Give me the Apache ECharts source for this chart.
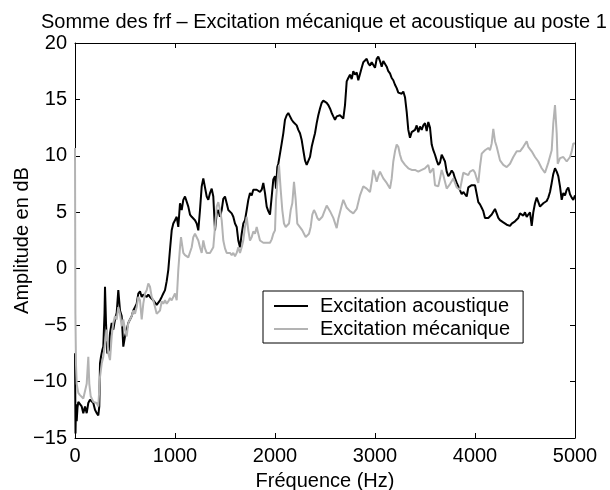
<!DOCTYPE html>
<html>
<head>
<meta charset="utf-8">
<script src="https://cdn.jsdelivr.net/npm/echarts@6/dist/echarts.min.js"></script>
<style>
  html, body { margin: 0; padding: 0; background: #fff; }
  #chart { width: 610px; height: 490px; }
</style>
</head>
<body>
<div id="chart"></div>
<script>
// Sum of FRFs, station 1: acoustic vs mechanical excitation (dB vs Hz)
const titleText = 'Somme des frf \u2013 Excitation mécanique et acoustique au poste 1';
const seriesNames = ['Excitation acoustique', 'Excitation mécanique'];
const xTicks = [0, 1000, 2000, 3000, 4000, 5000];
const yTicks = [-15, -10, -5, 0, 5, 10, 15, 20];

// Acoustic excitation
const acFreq = [0, 5, 10, 17, 25, 33, 50, 67, 83, 100, 117, 133, 150, 167, 183, 200, 217, 233, 243, 250, 260, 273, 283, 295, 300, 310, 323, 340, 350, 367, 383, 400, 417, 433, 450, 467, 483, 500, 517, 533, 550, 567, 583, 600, 617, 633, 650, 667, 683, 700, 717, 733, 750, 767, 783, 800, 817, 833, 850, 867, 883, 900, 917, 933, 950, 967, 983, 1000, 1017, 1033, 1050, 1067, 1083, 1100, 1117, 1133, 1150, 1167, 1183, 1200, 1217, 1233, 1250, 1267, 1283, 1300, 1317, 1333, 1350, 1367, 1383, 1400, 1417, 1433, 1450, 1467, 1483, 1500, 1517, 1533, 1550, 1567, 1583, 1600, 1617, 1633, 1650, 1667, 1683, 1700, 1717, 1733, 1750, 1767, 1783, 1800, 1817, 1833, 1850, 1867, 1883, 1900, 1917, 1933, 1950, 1967, 1983, 2000, 2010, 2023, 2033, 2050, 2067, 2083, 2100, 2117, 2133, 2150, 2167, 2183, 2200, 2217, 2233, 2250, 2267, 2283, 2300, 2317, 2333, 2350, 2367, 2383, 2400, 2417, 2433, 2450, 2467, 2483, 2500, 2517, 2533, 2550, 2567, 2583, 2600, 2617, 2633, 2650, 2667, 2683, 2690, 2700, 2717, 2733, 2750, 2767, 2783, 2800, 2817, 2833, 2850, 2867, 2883, 2900, 2917, 2933, 2950, 2967, 2983, 3000, 3017, 3033, 3050, 3067, 3083, 3100, 3117, 3133, 3150, 3167, 3183, 3200, 3217, 3233, 3250, 3267, 3283, 3300, 3317, 3333, 3350, 3367, 3383, 3400, 3417, 3433, 3450, 3467, 3483, 3500, 3517, 3533, 3550, 3567, 3583, 3600, 3617, 3633, 3650, 3667, 3683, 3700, 3717, 3733, 3750, 3767, 3783, 3800, 3817, 3833, 3850, 3867, 3883, 3900, 3917, 3933, 3950, 3967, 3983, 4000, 4017, 4033, 4050, 4067, 4083, 4100, 4117, 4133, 4150, 4167, 4183, 4200, 4217, 4233, 4250, 4267, 4283, 4300, 4317, 4333, 4350, 4367, 4383, 4400, 4417, 4433, 4450, 4467, 4483, 4500, 4517, 4533, 4550, 4567, 4583, 4600, 4617, 4633, 4650, 4667, 4683, 4700, 4717, 4733, 4750, 4767, 4783, 4800, 4817, 4833, 4850, 4867, 4883, 4900, 4917, 4933, 4950, 4967, 4983, 5000];
const acAmp = [-7.5, -14.6, -12.0, -13.5, -12.3, -11.8, -11.9, -12.2, -12.8, -12.2, -12.8, -11.9, -11.6, -11.6, -11.9, -12.5, -12.8, -13.0, -12.2, -8.4, -7.8, -7.2, -6.9, -4.0, -1.6, -4.8, -7.5, -7.2, -5.7, -4.8, -5.4, -4.5, -3.9, -1.9, -3.7, -4.2, -6.9, -6.0, -5.4, -4.8, -4.5, -4.2, -3.7, -3.4, -3.1, -2.2, -2.0, -2.5, -2.3, -2.2, -2.5, -2.3, -2.5, -2.6, -2.8, -2.9, -3.2, -3.1, -2.8, -2.5, -2.2, -1.9, -1.1, -0.1, 1.7, 3.4, 4.0, 4.3, 4.6, 3.7, 5.8, 5.2, 6.1, 6.4, 6.4, 5.5, 4.8, 4.6, 4.6, 4.3, 4.0, 3.4, 5.2, 7.3, 8.0, 8.0, 6.4, 6.1, 6.7, 7.1, 6.4, 3.4, 4.9, 5.2, 4.6, 5.2, 6.2, 6.4, 5.8, 5.2, 5.1, 4.9, 4.6, 4.0, 3.7, 2.5, 1.9, 3.1, 4.0, 4.3, 5.2, 6.1, 6.7, 6.5, 7.0, 7.1, 7.0, 7.1, 6.8, 7.0, 7.6, 6.7, 5.5, 5.1, 4.8, 4.9, 7.9, 8.2, 7.1, 9.0, 9.3, 10.2, 11.1, 12.0, 13.2, 13.6, 13.8, 13.5, 13.2, 13.0, 12.9, 12.7, 12.3, 12.0, 11.4, 10.5, 9.6, 9.2, 9.3, 9.9, 10.8, 11.4, 12.0, 12.9, 13.6, 14.2, 14.7, 14.9, 14.8, 14.7, 14.5, 14.2, 13.8, 13.5, 13.2, 13.5, 13.6, 13.6, 13.5, 13.3, 13.2, 14.5, 16.6, 16.9, 17.2, 16.8, 17.5, 17.2, 17.4, 16.7, 16.6, 17.8, 18.3, 18.4, 18.6, 18.2, 18.0, 18.3, 18.2, 17.8, 18.6, 18.8, 18.4, 17.9, 18.4, 18.5, 17.9, 17.5, 17.3, 16.9, 16.7, 16.3, 16.0, 15.6, 15.7, 15.5, 15.7, 15.2, 13.9, 12.3, 11.6, 12.1, 12.0, 12.3, 12.7, 12.1, 12.6, 12.3, 12.7, 12.9, 12.2, 13.0, 12.5, 11.0, 10.5, 10.1, 9.6, 9.2, 9.4, 10.1, 10.1, 9.5, 8.6, 8.2, 8.4, 8.7, 8.5, 8.0, 7.6, 7.3, 7.2, 6.6, 6.8, 6.6, 6.4, 7.2, 7.3, 7.4, 7.3, 7.4, 7.5, 5.9, 5.7, 5.4, 5.1, 4.5, 4.5, 4.5, 4.5, 4.8, 4.7, 5.3, 4.9, 4.5, 4.3, 4.3, 4.1, 4.0, 3.9, 4.0, 3.8, 4.0, 4.1, 4.2, 4.3, 4.5, 4.9, 4.8, 4.7, 5.0, 4.6, 4.8, 5.0, 3.8, 5.0, 5.8, 6.3, 6.2, 5.5, 5.6, 5.8, 5.9, 6.0, 6.3, 6.8, 7.6, 8.4, 8.9, 8.6, 8.2, 7.3, 6.1, 6.7, 6.5, 7.0, 7.2, 6.6, 6.3, 6.1, 6.5];

// Mechanical excitation
const meFreq = [0, 4, 10, 17, 33, 50, 67, 83, 100, 117, 133, 143, 157, 183, 200, 217, 233, 250, 267, 283, 300, 317, 333, 350, 367, 383, 400, 417, 433, 450, 467, 483, 500, 517, 533, 550, 567, 583, 600, 617, 633, 650, 667, 683, 700, 717, 733, 750, 767, 783, 800, 817, 833, 850, 867, 883, 900, 917, 933, 950, 967, 983, 1000, 1017, 1033, 1050, 1060, 1083, 1100, 1117, 1133, 1150, 1167, 1183, 1200, 1217, 1233, 1250, 1267, 1283, 1300, 1317, 1333, 1350, 1367, 1383, 1400, 1417, 1433, 1450, 1467, 1483, 1500, 1517, 1533, 1550, 1567, 1583, 1600, 1617, 1633, 1650, 1667, 1683, 1700, 1717, 1733, 1750, 1767, 1783, 1800, 1817, 1833, 1850, 1867, 1883, 1900, 1917, 1933, 1950, 1967, 1983, 2000, 2010, 2023, 2040, 2057, 2073, 2090, 2107, 2123, 2140, 2157, 2173, 2190, 2207, 2223, 2240, 2257, 2273, 2290, 2307, 2323, 2340, 2357, 2373, 2390, 2407, 2423, 2440, 2457, 2473, 2490, 2517, 2550, 2583, 2617, 2633, 2667, 2683, 2717, 2750, 2783, 2817, 2850, 2883, 2917, 2950, 2967, 2983, 3000, 3017, 3033, 3050, 3083, 3117, 3150, 3167, 3183, 3200, 3217, 3233, 3250, 3267, 3300, 3333, 3367, 3400, 3433, 3467, 3500, 3533, 3550, 3583, 3600, 3633, 3650, 3667, 3683, 3717, 3750, 3783, 3817, 3850, 3883, 3900, 3933, 3950, 3983, 4000, 4017, 4033, 4050, 4067, 4100, 4133, 4150, 4167, 4183, 4200, 4217, 4250, 4283, 4317, 4350, 4383, 4417, 4450, 4483, 4517, 4533, 4567, 4600, 4633, 4667, 4700, 4733, 4767, 4783, 4800, 4817, 4827, 4850, 4883, 4917, 4950, 4967, 4983, 5000];
const meAmp = [10.7, -4.0, -8.5, -10.2, -11.0, -11.2, -11.3, -11.5, -11.6, -10.2, -7.8, -10.2, -11.3, -11.8, -11.8, -11.9, -12.2, -9.6, -8.4, -7.8, -6.6, -5.4, -7.5, -8.1, -6.0, -4.8, -4.2, -4.5, -3.4, -4.0, -5.1, -4.5, -5.4, -6.0, -4.8, -4.5, -4.2, -3.7, -4.0, -3.4, -2.5, -2.8, -4.5, -3.1, -2.2, -1.9, -1.3, -1.6, -2.5, -2.8, -3.4, -4.0, -4.1, -3.7, -2.9, -3.1, -2.8, -3.1, -2.9, -2.6, -2.8, -2.5, -2.2, -2.8, -0.1, 1.9, 2.8, 1.4, 1.2, 1.1, 1.0, 1.1, 1.9, 2.8, 3.1, 3.0, 2.5, 1.9, 1.4, 2.5, 1.8, 1.4, 1.5, 1.4, 1.5, 1.9, 3.7, 5.5, 5.9, 5.2, 4.3, 2.5, 1.8, 1.4, 1.5, 1.4, 1.2, 1.4, 1.1, 1.4, 1.9, 1.4, 1.9, 2.5, 3.7, 4.6, 3.4, 2.5, 2.8, 3.3, 3.1, 3.7, 3.1, 2.5, 2.4, 2.3, 2.4, 2.3, 2.4, 2.3, 2.6, 3.1, 3.4, 6.1, 7.6, 9.2, 7.0, 5.2, 4.0, 3.7, 3.6, 4.0, 5.2, 5.8, 7.7, 6.1, 4.0, 3.9, 3.6, 3.4, 3.1, 2.8, 2.7, 3.1, 3.7, 4.8, 5.2, 4.9, 4.5, 4.3, 4.4, 4.6, 5.0, 5.6, 5.1, 4.5, 3.6, 4.4, 5.6, 6.1, 5.4, 5.1, 4.9, 5.3, 6.5, 7.3, 7.1, 6.8, 7.7, 8.75, 8.3, 7.7, 8.2, 8.6, 8.0, 7.6, 7.1, 8.0, 9.5, 10.4, 11.0, 10.8, 10.1, 9.6, 9.2, 8.9, 8.75, 8.75, 8.6, 8.75, 8.9, 9.2, 8.5, 8.9, 7.4, 7.3, 8.0, 8.75, 8.3, 7.1, 7.5, 8.0, 7.2, 7.0, 8.5, 8.6, 8.3, 8.6, 8.75, 8.5, 8.0, 7.6, 9.05, 10.2, 10.5, 10.7, 10.5, 11.1, 12.4, 11.3, 10.8, 9.6, 9.2, 9.0, 9.3, 9.9, 10.4, 10.4, 10.8, 11.3, 10.8, 10.4, 9.9, 9.5, 8.9, 8.5, 9.4, 10.5, 12.9, 14.5, 12.0, 9.3, 9.8, 9.9, 9.5, 9.9, 10.4, 11.1, 11.1];

const font = 'Liberation Sans, Arial, Helvetica, sans-serif';
const fs = 20;

const pairs = (xs, ys) => xs.map((x, i) => [x, ys[i]]);
// plain numbers, typographic minus sign
const tickFmt = v => (v < 0 ? '\u2212' + Math.abs(v) : String(v));

const chart = echarts.init(document.getElementById('chart'), null, { renderer: 'canvas' });

const baseX = {
  type: 'value', min: xTicks[0], max: xTicks[xTicks.length - 1], interval: 1000,
  splitLine: { show: false },
  axisLine: { show: true, onZero: false, lineStyle: { color: '#000', width: 1 } },
  axisTick: { show: true, inside: true, length: 5, lineStyle: { color: '#000' } }
};
const baseY = {
  type: 'value', min: yTicks[0], max: yTicks[yTicks.length - 1], interval: 5,
  splitLine: { show: false },
  axisLine: { show: true, onZero: false, lineStyle: { color: '#000', width: 1 } },
  axisTick: { show: true, inside: true, length: 5, lineStyle: { color: '#000' } }
};

chart.setOption({
  backgroundColor: '#fff',
  animation: false,
  title: {
    text: titleText,
    left: 41, top: 12, padding: 0,
    textStyle: { fontFamily: font, fontSize: fs, fontWeight: 'normal', color: '#000' }
  },
  grid: { left: 75, right: 35, top: 43, bottom: 52, containLabel: false, outerBoundsMode: 'none' },
  legend: {
    orient: 'vertical',
    left: 263, top: 291,
    padding: [5, 13, 4, 11],
    itemGap: 3,
    itemWidth: 34, itemHeight: 2,
    icon: 'rect',
    backgroundColor: '#fff',
    borderColor: '#000', borderWidth: 1,
    textStyle: { fontFamily: font, fontSize: fs, color: '#000', padding: [0, 0, 0, 7] },
    data: seriesNames
  },
  xAxis: [
    Object.assign({}, baseX, {
      position: 'bottom',
      name: 'Fréquence (Hz)', nameLocation: 'middle', nameGap: 33,
      nameTextStyle: { fontFamily: font, fontSize: fs, color: '#000' },
      axisLabel: { margin: 8, fontFamily: font, fontSize: fs, color: '#000', formatter: tickFmt }
    }),
    Object.assign({}, baseX, { position: 'top', axisLabel: { show: false } })
  ],
  yAxis: [
    Object.assign({}, baseY, {
      position: 'left',
      name: 'Amplitude en dB', nameLocation: 'middle', nameGap: 43, nameMoveOverlap: false,
      nameTextStyle: { fontFamily: font, fontSize: fs, color: '#000' },
      axisLabel: { margin: 8, fontFamily: font, fontSize: fs, color: '#000', formatter: tickFmt }
    }),
    Object.assign({}, baseY, { position: 'right', axisLabel: { show: false } })
  ],
  series: [
    {
      name: seriesNames[0], type: 'line', xAxisIndex: 0, yAxisIndex: 0,
      data: pairs(acFreq, acAmp), showSymbol: false, symbol: 'none',
      lineStyle: { color: '#000', width: 2 }, itemStyle: { color: '#000' },
      clip: true, z: 2
    },
    {
      name: seriesNames[1], type: 'line', xAxisIndex: 0, yAxisIndex: 0,
      data: pairs(meFreq, meAmp), showSymbol: false, symbol: 'none',
      lineStyle: { color: '#b3b3b3', width: 2 }, itemStyle: { color: '#b3b3b3' },
      clip: true, z: 3
    }
  ]
});
</script>
</body>
</html>
